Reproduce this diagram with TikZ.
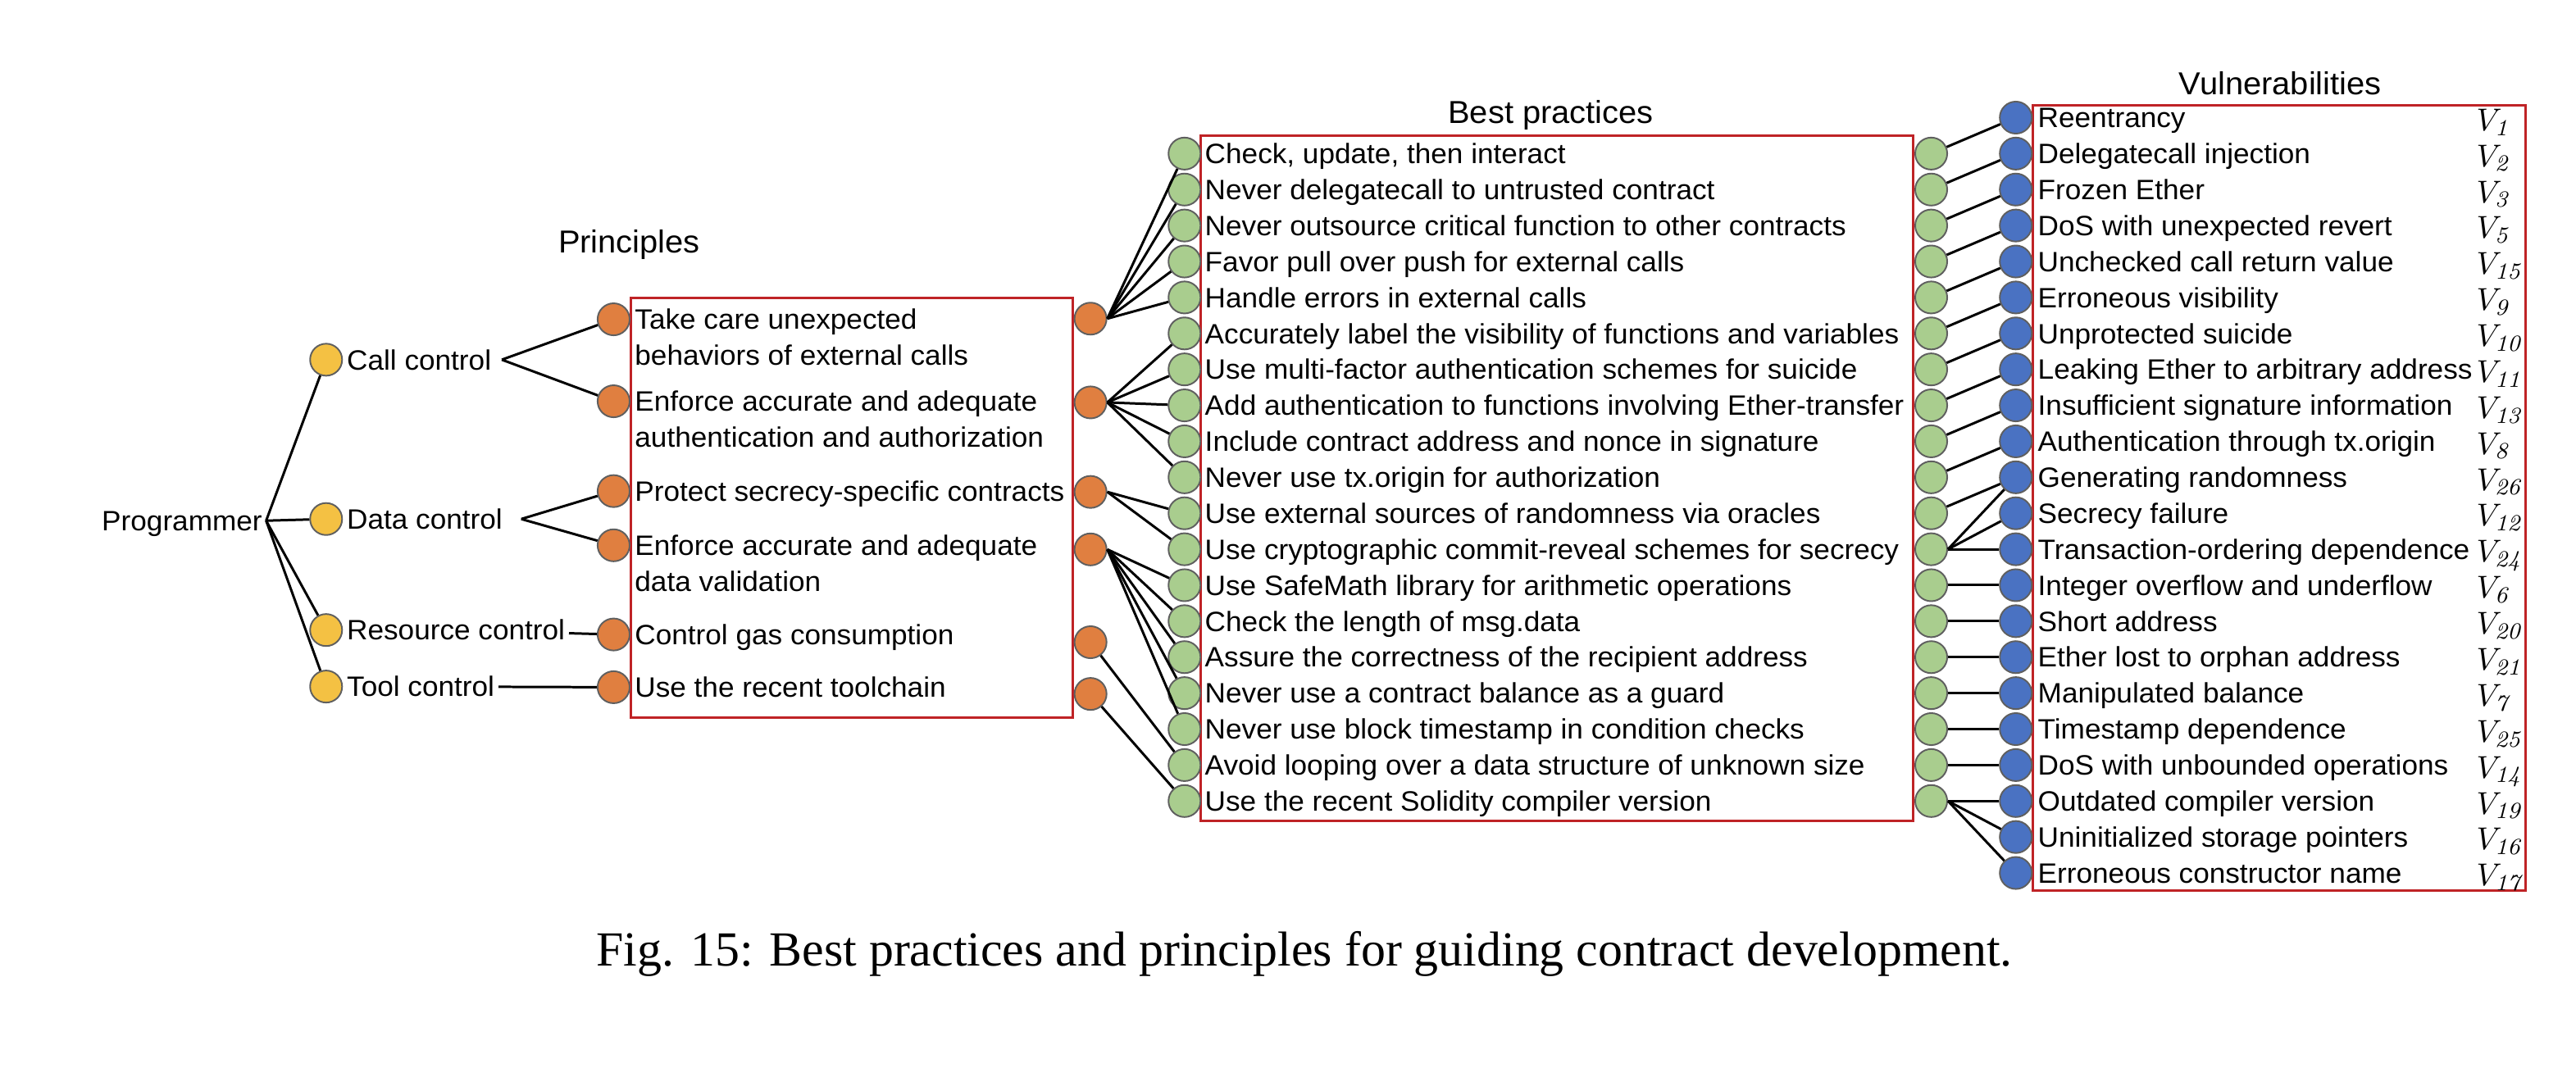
\documentclass[tikz,border=0pt]{standalone}
\usepackage[no-math]{fontspec}
\setmainfont{Liberation Sans}[FakeStretch=1.03]
\newfontfamily\capfont{Liberation Serif}
\usetikzlibrary{positioning}
\definecolor{ctrlfill}{HTML}{F4C143}
\definecolor{prinfill}{HTML}{E07F40}
\definecolor{pracfill}{HTML}{A9CD8E}
\definecolor{vulnfill}{HTML}{4A72C2}
\definecolor{bubbleedge}{HTML}{5F5F5F}
\definecolor{boxred}{HTML}{BF2326}
\tikzset{
  bubble/.style={
    circle,
    draw=bubbleedge, line width=0.55pt,
    minimum size=0.39cm,
    inner sep=0pt
  },
  ctrl/.style={bubble, fill=ctrlfill},
  prin/.style={bubble, fill=prinfill},
  prac/.style={bubble, fill=pracfill},
  vuln/.style={bubble, fill=vulnfill},
  txt/.style={
    anchor=west,
    inner xsep=1.2pt, inner ysep=0pt,
    text height=6.95pt, text depth=0pt,
    font=\fontsize{9.7}{12.5}\selectfont
  },
  txttwo/.style={
    anchor=west, align=left,
    inner xsep=1.2pt, inner ysep=0pt,
    font=\fontsize{9.7}{12.5}\selectfont
  },
  vtag/.style={inner sep=0pt, font=\fontsize{11}{13}\selectfont},
  heading/.style={font=\fontsize{11}{13}\selectfont},
  groupbox/.style={draw=boxred, line width=0.85pt},
  link/.style={draw=black, line width=0.85pt}
}

\begin{document}
\begin{tikzpicture}[x=0.02cm, y=-0.02cm]
\useasboundingbox (0,0) rectangle (1568,650);

% frames
\draw[groupbox] (384,181.5) rectangle (653,437);
\draw[groupbox] (731,82.5) rectangle (1164.5,500);
\draw[groupbox] (1237.5,64) rectangle (1537.5,542);

% headings
\node[heading] (hprin) at (383,149) {Principles};
\node[heading] (hprac) at (944,70) {Best practices};
\node[heading] (hvuln) at (1388,50.5) {Vulnerabilities};

% programmer and controls
\node[txt, anchor=east] (prog) at (162,317) {Programmer};

\node[ctrl] (c1) at (198.5,219) {};
\node[txt, right=0pt of c1] (callt) {Call control};
\node[ctrl] (c2) at (198.5,316) {};
\node[txt, right=0pt of c2] (datat) {Data control};
\node[ctrl] (c3) at (198.5,383.6) {};
\node[txt, right=0pt of c3] (rest) {Resource control};
\node[ctrl] (c4) at (198.5,418) {};
\node[txt, right=0pt of c4] (toolt) {Tool control};

% principles
\node[prin] (pl1) at (373.5,194.4) {};
\node[prin] (pl2) at (373.5,244.3) {};
\node[prin] (pl3) at (373.5,299) {};
\node[prin] (pl4) at (373.5,332) {};
\node[prin] (pl5) at (373.5,386.3) {};
\node[prin] (pl6) at (373.5,418.4) {};

\node[txttwo] (p1) at (384,205) {Take care unexpected\\behaviors of external calls};
\node[txttwo] (p2) at (384,255) {Enforce accurate and adequate\\authentication and authorization};
\node[txt] (p3) at (384,299) {Protect secrecy-specific contracts};
\node[txttwo] (p4) at (384,343) {Enforce accurate and adequate\\data validation};
\node[txt] (p5) at (384,386.3) {Control gas consumption};
\node[txt] (p6) at (384,418.4) {Use the recent toolchain};

\node[prin] (pr1) at (663.8,194) {};
\node[prin] (pr2) at (663.8,245) {};
\node[prin] (pr3) at (663.8,299.5) {};
\node[prin] (pr4) at (663.8,334.5) {};
\node[prin] (pr5) at (663.8,391) {};
\node[prin] (pr6) at (663.8,422.5) {};

% best practices
\foreach \txt [count=\i] in {
  {Check, update, then interact},
  {Never delegatecall to untrusted contract},
  {Never outsource critical function to other contracts},
  {Favor pull over push for external calls},
  {Handle errors in external calls},
  {Accurately label the visibility of functions and variables},
  {Use multi-factor authentication schemes for suicide},
  {Add authentication to functions involving Ether-transfer},
  {Include contract address and nonce in signature},
  {Never use tx.origin for authorization},
  {Use external sources of randomness via oracles},
  {Use cryptographic commit-reveal schemes for secrecy},
  {Use SafeMath library for arithmetic operations},
  {Check the length of msg.data},
  {Assure the correctness of the recipient address},
  {Never use a contract balance as a guard},
  {Never use block timestamp in condition checks},
  {Avoid looping over a data structure of unknown size},
  {Use the recent Solidity compiler version}} {
  \node[prac] (gl\i) at (721,{93.5+21.9*(\i-1)}) {};
  \node[txt] (bp\i) at (731,{93.5+21.9*(\i-1)}) {\txt};
  \node[prac] (gr\i) at (1175.5,{93.5+21.9*(\i-1)}) {};
}

% vulnerabilities
\coordinate (vcol) at (1507,0);
\foreach \txt/\num [count=\j] in {
  Reentrancy/1, Delegatecall injection/2, Frozen Ether/3,
  DoS with unexpected revert/5, Unchecked call return value/15,
  Erroneous visibility/9, Unprotected suicide/10,
  Leaking Ether to arbitrary address/11,
  Insufficient signature information/13,
  Authentication through tx.origin/8, Generating randomness/26,
  Secrecy failure/12, Transaction-ordering dependence/24,
  Integer overflow and underflow/6, Short address/20,
  Ether lost to orphan address/21, Manipulated balance/7,
  Timestamp dependence/25, DoS with unbounded operations/14,
  Outdated compiler version/19, Uninitialized storage pointers/16,
  Erroneous constructor name/17} {
  \node[vuln] (v\j) at (1227,{71.6+21.9*(\j-1)}) {};
  \node[txt] (vt\j) at (1238,{71.6+21.9*(\j-1)}) {\txt};
  \node[vtag, anchor=base west, yshift=-1pt] (vl\j) at (vt\j.base -| vcol) {$V_{\mathit{\num}}$};
}

% caption
\node[font=\capfont\fontsize{17}{20}\selectfont] (cap) at (794,581)
  {Fig. 15: Best practices and principles for guiding contract development.};

% edges

%% programmer
\foreach \i in {1,...,4} \draw[link] (prog.east) -- (c\i);

%% controls
\coordinate[right=0.8mm of callt.east] (cfork);
\draw[link] (cfork) -- (pl1);
\draw[link] (cfork) -- (pl2);
\coordinate[right=1.8mm of datat.east] (dfork);
\draw[link] (dfork) -- (pl3);
\draw[link] (dfork) -- (pl4);
\draw[link] (rest) -- (pl5);
\draw[link] (toolt) -- (pl6);

%% principles
\foreach \i in {1,...,5} \draw[link] (pr1.east) -- (gl\i);
\foreach \i in {6,...,10} \draw[link] (pr2.east) -- (gl\i);
\foreach \i in {11,12} \draw[link] (pr3.east) -- (gl\i);
\foreach \i in {13,...,17} \draw[link] (pr4.east) -- (gl\i);
\draw[link] (pr5) -- (gl18);
\draw[link] (pr6) -- (gl19);

%% best practices
\foreach \i in {1,...,11} \draw[link] (gr\i) -- (v\i);
\foreach \j in {11,12,13} \draw[link] (gr12.east) -- (v\j);
\foreach \i [evaluate=\i as \j using int(\i+1)] in {13,...,18} \draw[link] (gr\i) -- (v\j);
\foreach \j in {20,21,22} \draw[link] (gr19.east) -- (v\j);

\end{tikzpicture}
\end{document}
